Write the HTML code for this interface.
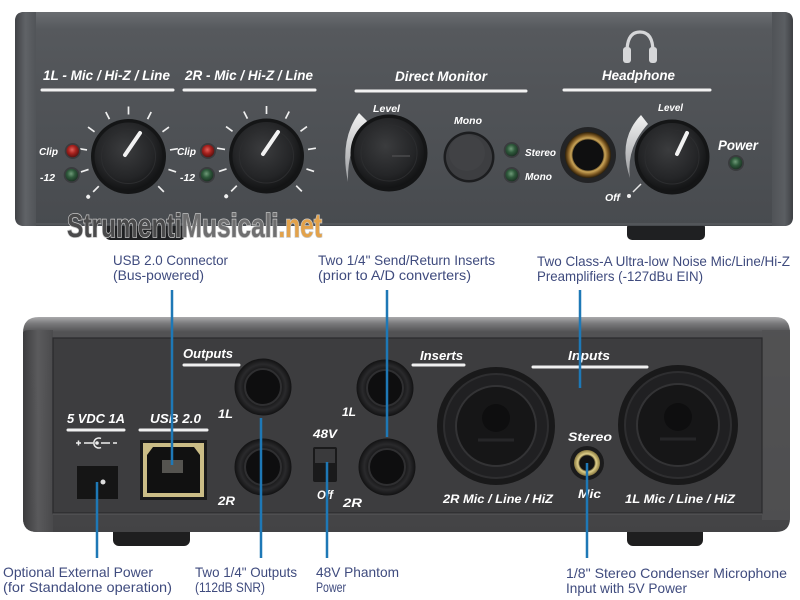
<!DOCTYPE html>
<html><head><meta charset="utf-8"><style>
html,body{margin:0;padding:0;background:#fff;width:800px;height:600px;overflow:hidden;}
svg{display:block;}
.w{fill:#fff;font-family:"Liberation Sans",sans-serif;font-weight:bold;font-style:italic;}
.a{fill:#3f4b7e;font-family:"Liberation Sans",sans-serif;font-size:14px;}
.n{fill:#3f4b7e;font-family:"Liberation Sans Narrow","Liberation Sans",sans-serif;font-size:14px;}
</style></head><body>
<svg width="800" height="600" viewBox="0 0 800 600" xmlns="http://www.w3.org/2000/svg">
<defs>
 <linearGradient id="fg" x1="0" y1="0" x2="0" y2="1">
  <stop offset="0" stop-color="#6a6d71"/>
  <stop offset="0.08" stop-color="#56595d"/>
  <stop offset="0.5" stop-color="#4f5256"/>
  <stop offset="1" stop-color="#484b4f"/>
 </linearGradient>
 <linearGradient id="fl" x1="0" y1="0" x2="1" y2="0">
  <stop offset="0" stop-color="#404246"/>
  <stop offset="0.5" stop-color="#606367"/>
  <stop offset="1" stop-color="#515458"/>
 </linearGradient>
 <linearGradient id="fr" x1="0" y1="0" x2="1" y2="0">
  <stop offset="0" stop-color="#505357"/>
  <stop offset="0.6" stop-color="#5b5e62"/>
  <stop offset="1" stop-color="#3e4044"/>
 </linearGradient>
 <radialGradient id="knob" cx="0.45" cy="0.4" r="0.6">
  <stop offset="0" stop-color="#3b3c3e"/>
  <stop offset="0.7" stop-color="#242527"/>
  <stop offset="1" stop-color="#131415"/>
 </radialGradient>
 <radialGradient id="red" cx="0.45" cy="0.4" r="0.6">
  <stop offset="0" stop-color="#e0605a"/>
  <stop offset="0.5" stop-color="#a8221e"/>
  <stop offset="1" stop-color="#5a1210"/>
 </radialGradient>
 <radialGradient id="grn" cx="0.45" cy="0.4" r="0.6">
  <stop offset="0" stop-color="#6f9a78"/>
  <stop offset="0.5" stop-color="#2f5a3c"/>
  <stop offset="1" stop-color="#1c3324"/>
 </radialGradient>
 <radialGradient id="gold" cx="0.5" cy="0.5" r="0.5">
  <stop offset="0.62" stop-color="#2a1e0a"/>
  <stop offset="0.74" stop-color="#c9a458"/>
  <stop offset="0.88" stop-color="#7a5620"/>
  <stop offset="1" stop-color="#2a1e0a"/>
 </radialGradient>
 <radialGradient id="mgold" cx="0.5" cy="0.5" r="0.5">
  <stop offset="0.55" stop-color="#2a2414"/>
  <stop offset="0.7" stop-color="#e0d08a"/>
  <stop offset="1" stop-color="#8a7a40"/>
 </radialGradient>
 <linearGradient id="arc" x1="0" y1="0" x2="0" y2="1">
  <stop offset="0" stop-color="#f2f2f2"/>
  <stop offset="1" stop-color="#9a9c9f"/>
 </linearGradient>
 <linearGradient id="bg" x1="0" y1="0" x2="0" y2="1">
  <stop offset="0" stop-color="#a9a9ab"/>
  <stop offset="0.03" stop-color="#7a7a7c"/>
  <stop offset="0.07" stop-color="#525254"/>
  <stop offset="1" stop-color="#434345"/>
 </linearGradient>
 <linearGradient id="bl" x1="0" y1="0" x2="1" y2="0">
  <stop offset="0" stop-color="#3a3a3c"/>
  <stop offset="0.5" stop-color="#5c5c5e"/>
  <stop offset="1" stop-color="#4a4a4c"/>
 </linearGradient>
 <radialGradient id="jack" cx="0.5" cy="0.5" r="0.5">
  <stop offset="0" stop-color="#0c0c0d"/>
  <stop offset="0.6" stop-color="#141415"/>
  <stop offset="0.8" stop-color="#2a2a2c"/>
  <stop offset="1" stop-color="#121213"/>
 </radialGradient>
</defs>

<!-- ============ FRONT DEVICE ============ -->
<rect x="105" y="222" width="80" height="18" rx="5" fill="#1f2022"/>
<rect x="627" y="222" width="78" height="18" rx="5" fill="#1f2022"/>
<rect x="15" y="12" width="778" height="214" rx="9" fill="url(#fg)"/>
<path d="M24,12 L36,12 L36,226 L24,226 Q15,226 15,217 L15,21 Q15,12 24,12 Z" fill="url(#fl)"/>
<path d="M772,12 L784,12 Q793,12 793,21 L793,217 Q793,226 784,226 L772,226 Z" fill="url(#fr)"/>
<line x1="36" y1="224" x2="772" y2="224" stroke="#5e6165" stroke-width="1"/>

<!-- section headers -->
<text class="w" x="43" y="80" font-size="14" textLength="127" lengthAdjust="spacingAndGlyphs">1L - Mic / Hi-Z / Line</text>
<text class="w" x="185" y="80" font-size="14" textLength="128" lengthAdjust="spacingAndGlyphs">2R - Mic / Hi-Z / Line</text>
<text class="w" x="395" y="81" font-size="14" textLength="92" lengthAdjust="spacingAndGlyphs">Direct Monitor</text>
<text class="w" x="602" y="80" font-size="14" textLength="73" lengthAdjust="spacingAndGlyphs">Headphone</text>
<g stroke="#f2f2f2" stroke-width="3" stroke-linecap="round">
 <line x1="42" y1="90" x2="173" y2="90"/>
 <line x1="184" y1="90" x2="315" y2="90"/>
 <line x1="356" y1="91" x2="526" y2="91"/>
 <line x1="564" y1="90" x2="710" y2="90"/>
</g>

<!-- headphone icon -->
<g fill="none" stroke="#d6d7d9" stroke-width="3.2">
 <path d="M627,52 Q627,32 640,32 Q653,32 653,52"/>
</g>
<rect x="623" y="47" width="8" height="16" rx="3" fill="#d6d7d9"/>
<rect x="649" y="47" width="8" height="16" rx="3" fill="#d6d7d9"/>

<!-- Knob 1 -->
<g transform="translate(128.5,156.5)">
 <g stroke="#f0f0f0" stroke-width="1.7">
  <line y1="-42" y2="-50" transform="rotate(-135)"/>
  <line y1="-42" y2="-50" transform="rotate(-108)"/>
  <line y1="-42" y2="-50" transform="rotate(-81)"/>
  <line y1="-42" y2="-50" transform="rotate(-54)"/>
  <line y1="-42" y2="-50" transform="rotate(-27)"/>
  <line y1="-42" y2="-50" transform="rotate(0)"/>
  <line y1="-42" y2="-50" transform="rotate(27)"/>
  <line y1="-42" y2="-50" transform="rotate(54)"/>
  <line y1="-42" y2="-50" transform="rotate(81)"/>
  <line y1="-42" y2="-50" transform="rotate(108)"/>
  <line y1="-42" y2="-50" transform="rotate(135)"/>
 </g>
 <circle cx="0" cy="-57" r="2" fill="#f0f0f0" transform="rotate(-135)"/>
 <circle r="37.5" fill="#141516"/>
 <circle r="34" fill="url(#knob)"/>
 <circle r="27" fill="none" stroke="#2c2d2f" stroke-width="1"/>
 <line x1="-3.5" y1="-1.5" x2="11.5" y2="-23.5" stroke="#f2f2f2" stroke-width="4" stroke-linecap="round"/>
</g>
<!-- Knob 2 -->
<g transform="translate(266.5,156)">
 <g stroke="#f0f0f0" stroke-width="1.7">
  <line y1="-42" y2="-50" transform="rotate(-135)"/>
  <line y1="-42" y2="-50" transform="rotate(-108)"/>
  <line y1="-42" y2="-50" transform="rotate(-81)"/>
  <line y1="-42" y2="-50" transform="rotate(-54)"/>
  <line y1="-42" y2="-50" transform="rotate(-27)"/>
  <line y1="-42" y2="-50" transform="rotate(0)"/>
  <line y1="-42" y2="-50" transform="rotate(27)"/>
  <line y1="-42" y2="-50" transform="rotate(54)"/>
  <line y1="-42" y2="-50" transform="rotate(81)"/>
  <line y1="-42" y2="-50" transform="rotate(108)"/>
  <line y1="-42" y2="-50" transform="rotate(135)"/>
 </g>
 <circle cx="0" cy="-57" r="2" fill="#f0f0f0" transform="rotate(-135)"/>
 <circle r="37.5" fill="#141516"/>
 <circle r="34" fill="url(#knob)"/>
 <circle r="27" fill="none" stroke="#2c2d2f" stroke-width="1"/>
 <line x1="-3.5" y1="-2" x2="11.5" y2="-24" stroke="#f2f2f2" stroke-width="4" stroke-linecap="round"/>
</g>

<!-- Clip / -12 LEDs -->
<text class="w" x="39" y="155" font-size="10.5" textLength="19" lengthAdjust="spacingAndGlyphs">Clip</text>
<text class="w" x="40" y="181" font-size="10.5" textLength="15" lengthAdjust="spacingAndGlyphs">-12</text>
<text class="w" x="177" y="155" font-size="10.5" textLength="19" lengthAdjust="spacingAndGlyphs">Clip</text>
<text class="w" x="180" y="181" font-size="10.5" textLength="15" lengthAdjust="spacingAndGlyphs">-12</text>
<circle cx="72.7" cy="151" r="8" fill="#3a3b3e"/>
<circle cx="72.7" cy="151" r="6.3" fill="url(#red)"/>
<circle cx="71.7" cy="175" r="8" fill="#3a3b3e"/>
<circle cx="71.7" cy="175" r="6.3" fill="url(#grn)"/>
<circle cx="208" cy="151" r="8" fill="#3a3b3e"/>
<circle cx="208" cy="151" r="6.3" fill="url(#red)"/>
<circle cx="207" cy="175" r="8" fill="#3a3b3e"/>
<circle cx="207" cy="175" r="6.3" fill="url(#grn)"/>

<!-- Direct Monitor -->
<text class="w" x="373" y="112" font-size="10.5" textLength="27" lengthAdjust="spacingAndGlyphs">Level</text>
<path d="M359,113 Q339,140 348,182 Q347,146 367,121 Z" fill="url(#arc)"/>
<circle cx="389" cy="153" r="38.5" fill="#141516"/>
<circle cx="389" cy="153" r="35" fill="url(#knob)"/>
<circle cx="389" cy="153" r="28" fill="none" stroke="#2c2d2f" stroke-width="1"/>
<line x1="392" y1="156" x2="410" y2="156" stroke="#4a4b4d" stroke-width="1.5"/>
<text class="w" x="454" y="124" font-size="10.5" textLength="28" lengthAdjust="spacingAndGlyphs">Mono</text>
<circle cx="469" cy="157" r="25.5" fill="#1c1d1f"/>
<circle cx="469" cy="157" r="23" fill="#3d3e41"/>
<circle cx="467" cy="153" r="18" fill="#434447" opacity="0.7"/>
<circle cx="511.7" cy="150" r="8" fill="#3a3b3e"/>
<circle cx="511.7" cy="150" r="6.3" fill="url(#grn)"/>
<circle cx="511.7" cy="175" r="8" fill="#3a3b3e"/>
<circle cx="511.7" cy="175" r="6.3" fill="url(#grn)"/>
<text class="w" x="525" y="156" font-size="10.5" textLength="31" lengthAdjust="spacingAndGlyphs">Stereo</text>
<text class="w" x="525" y="180" font-size="10.5" textLength="27" lengthAdjust="spacingAndGlyphs">Mono</text>

<!-- Headphone jack -->
<circle cx="588" cy="155" r="28" fill="#232426"/>
<circle cx="588" cy="155" r="23" fill="url(#gold)"/>
<circle cx="588" cy="155" r="15.5" fill="#0f0f10"/>

<!-- Headphone level -->
<text class="w" x="658" y="111" font-size="10.5" textLength="25" lengthAdjust="spacingAndGlyphs">Level</text>
<path d="M641,115 Q617,140 630,178 Q626,148 648,124 Z" fill="url(#arc)"/>
<circle cx="672" cy="157" r="37.5" fill="#141516"/>
<circle cx="672" cy="157" r="34" fill="url(#knob)"/>
<circle cx="672" cy="157" r="27" fill="none" stroke="#2c2d2f" stroke-width="1"/>
<line x1="677" y1="154" x2="687" y2="133" stroke="#f2f2f2" stroke-width="4" stroke-linecap="round"/>
<line x1="633" y1="192" x2="641" y2="184" stroke="#e8e8e8" stroke-width="1.5"/>
<circle cx="629" cy="196" r="2" fill="#f0f0f0"/>
<text class="w" x="605" y="201" font-size="10.5" textLength="15" lengthAdjust="spacingAndGlyphs">Off</text>

<!-- Power -->
<text class="w" x="718" y="150" font-size="13.5" textLength="40" lengthAdjust="spacingAndGlyphs">Power</text>
<circle cx="736" cy="163" r="8" fill="#3a3b3e"/>
<circle cx="736" cy="163" r="6.3" fill="url(#grn)"/>

<!-- watermark -->
<text x="67" y="237" font-family="'Liberation Sans Narrow','Liberation Sans',sans-serif" font-weight="bold" font-size="33" textLength="255" lengthAdjust="spacingAndGlyphs" stroke="#c8c8c8" stroke-width="1.6" paint-order="stroke"><tspan fill="#4a4a4b">Strumenti</tspan><tspan fill="#6f6f70">Musicali</tspan><tspan fill="#e3a24a">.net</tspan></text>

<!-- ============ BACK DEVICE ============ -->
<rect x="113" y="526" width="77" height="20" rx="6" fill="#1e1e1f"/>
<rect x="627" y="526" width="76" height="20" rx="6" fill="#1e1e1f"/>
<path d="M23,333 Q23,317 39,317 L775,317 Q790,317 790,333 L790,518 Q790,532 776,532 L37,532 Q23,532 23,518 Z" fill="url(#bg)"/>
<path d="M23,333 Q23,330 30,330 L53,330 L53,532 L37,532 Q23,532 23,518 Z" fill="url(#bl)" opacity="0.9"/>
<rect x="762" y="330" width="28" height="190" fill="#515153" opacity="0.8"/>
<rect x="53" y="338" width="709" height="175" fill="#3d3d3f" stroke="#2a2a2c" stroke-width="1.2"/>
<line x1="53" y1="514" x2="762" y2="514" stroke="#5a5a5c" stroke-width="1"/>

<!-- labels -->
<text class="w" x="183" y="358" font-size="13" textLength="50" lengthAdjust="spacingAndGlyphs">Outputs</text>
<text class="w" x="420" y="360" font-size="13" textLength="43" lengthAdjust="spacingAndGlyphs">Inserts</text>
<text class="w" x="568" y="360" font-size="13" textLength="42" lengthAdjust="spacingAndGlyphs">Inputs</text>
<text class="w" x="67" y="423" font-size="13" textLength="58" lengthAdjust="spacingAndGlyphs">5 VDC 1A</text>
<text class="w" x="150" y="423" font-size="13" textLength="51" lengthAdjust="spacingAndGlyphs">USB 2.0</text>
<g stroke="#f0f0f0" stroke-width="3" stroke-linecap="round">
 <line x1="184" y1="365" x2="239" y2="365"/>
 <line x1="413" y1="365" x2="464" y2="365"/>
 <line x1="533" y1="367" x2="647" y2="367"/>
 <line x1="68" y1="430" x2="124" y2="430"/>
 <line x1="140" y1="430" x2="207" y2="430"/>
</g>

<!-- power symbol -->
<g stroke="#eee" stroke-width="1.5" fill="none">
 <line x1="76" y1="443" x2="81" y2="443"/><line x1="78.5" y1="440.5" x2="78.5" y2="445.5"/>
 <line x1="84" y1="443" x2="93" y2="443"/>
 <path d="M101,438.5 A5,5 0 1 0 101,447.5"/>
 <line x1="101" y1="443" x2="110" y2="443"/>
 <line x1="113" y1="443" x2="117" y2="443"/>
</g>
<circle cx="97" cy="443" r="1.8" fill="#eee"/>

<!-- power jack -->
<rect x="77" y="466" width="41" height="33" fill="#151515"/>
<circle cx="103" cy="482" r="2.5" fill="#ddd"/>

<!-- USB port -->
<rect x="140" y="440" width="67" height="60" fill="#1a1a1a"/>
<rect x="143" y="443" width="61" height="54" fill="#cbbd86"/>
<path d="M153,447 L194,447 L200,455 L200,493 L147,493 L147,455 Z" fill="#111"/>
<rect x="162" y="460" width="21" height="13" fill="#555450"/>

<!-- output jacks -->
<circle cx="263" cy="387" r="28.5" fill="url(#jack)"/>
<circle cx="263" cy="387" r="18" fill="#0e0e0f" stroke="#2f2f31" stroke-width="2"/>
<circle cx="263" cy="467" r="28.5" fill="url(#jack)"/>
<circle cx="263" cy="467" r="18" fill="#0e0e0f" stroke="#2f2f31" stroke-width="2"/>
<text class="w" x="218" y="418" font-size="12" textLength="15" lengthAdjust="spacingAndGlyphs">1L</text>
<text class="w" x="218" y="505" font-size="12" textLength="17" lengthAdjust="spacingAndGlyphs">2R</text>

<!-- 48V -->
<text class="w" x="313" y="438" font-size="12" textLength="24" lengthAdjust="spacingAndGlyphs">48V</text>
<rect x="313" y="447" width="24" height="35" rx="2" fill="#1a1a1b"/>
<rect x="315" y="449" width="20" height="14" fill="#3a3a3c"/>
<text class="w" x="317" y="499" font-size="12" textLength="16" lengthAdjust="spacingAndGlyphs">Off</text>

<!-- insert jacks -->
<circle cx="385" cy="388" r="28.5" fill="url(#jack)"/>
<circle cx="385" cy="388" r="18" fill="#0e0e0f" stroke="#2f2f31" stroke-width="2"/>
<circle cx="387" cy="467" r="28.5" fill="url(#jack)"/>
<circle cx="387" cy="467" r="18" fill="#0e0e0f" stroke="#2f2f31" stroke-width="2"/>
<text class="w" x="342" y="416" font-size="12" textLength="14" lengthAdjust="spacingAndGlyphs">1L</text>
<text class="w" x="343" y="507" font-size="12" textLength="19" lengthAdjust="spacingAndGlyphs">2R</text>

<!-- combo jacks -->
<circle cx="496" cy="426" r="59" fill="#19191a"/>
<circle cx="496" cy="426" r="52" fill="#202022" stroke="#2e2e30" stroke-width="2"/>
<circle cx="496" cy="426" r="40" fill="#161617" stroke="#333335" stroke-width="2"/>
<circle cx="496" cy="418" r="14" fill="#0e0e0f"/>
<path d="M478,440 L514,440" stroke="#262628" stroke-width="3"/>
<circle cx="678" cy="425" r="60" fill="#19191a"/>
<circle cx="678" cy="425" r="53" fill="#202022" stroke="#2e2e30" stroke-width="2"/>
<circle cx="678" cy="425" r="41" fill="#161617" stroke="#333335" stroke-width="2"/>
<circle cx="678" cy="417" r="14" fill="#0e0e0f"/>
<path d="M660,439 L696,439" stroke="#262628" stroke-width="3"/>

<!-- mini jack -->
<text class="w" x="568" y="441" font-size="12" textLength="44" lengthAdjust="spacingAndGlyphs">Stereo</text>
<circle cx="587" cy="463" r="17" fill="#1b1b1c"/>
<circle cx="587" cy="463" r="13" fill="url(#mgold)"/>
<circle cx="587" cy="463" r="7.5" fill="#121212"/>
<text class="w" x="578" y="498" font-size="12" textLength="23" lengthAdjust="spacingAndGlyphs">Mic</text>
<text class="w" x="443" y="503" font-size="12" textLength="110" lengthAdjust="spacingAndGlyphs">2R Mic / Line / HiZ</text>
<text class="w" x="625" y="503" font-size="12" textLength="110" lengthAdjust="spacingAndGlyphs">1L Mic / Line / HiZ</text>

<!-- ============ CALLOUT LINES ============ -->
<g stroke="#1e78b6" stroke-width="2.5">
 <line x1="172" y1="290" x2="172" y2="465"/>
 <line x1="387" y1="290" x2="387" y2="437"/>
 <line x1="580" y1="290" x2="580" y2="388"/>
 <line x1="97" y1="482" x2="97" y2="558"/>
 <line x1="261" y1="418" x2="261" y2="558"/>
 <line x1="327" y1="462" x2="327" y2="558"/>
 <line x1="587" y1="463" x2="587" y2="558"/>
</g>

<!-- ============ ANNOTATION TEXT ============ -->
<text class="a" x="113" y="265" textLength="115" lengthAdjust="spacingAndGlyphs">USB 2.0 Connector</text>
<text class="a" x="113" y="280" textLength="91" lengthAdjust="spacingAndGlyphs">(Bus-powered)</text>
<text class="a" x="318" y="265" textLength="177" lengthAdjust="spacingAndGlyphs">Two 1/4" Send/Return Inserts</text>
<text class="a" x="318" y="280" textLength="153" lengthAdjust="spacingAndGlyphs">(prior to A/D converters)</text>
<text class="a" x="537" y="266" textLength="253" lengthAdjust="spacingAndGlyphs">Two Class-A Ultra-low Noise Mic/Line/Hi-Z</text>
<text class="a" x="537" y="281" textLength="166" lengthAdjust="spacingAndGlyphs">Preamplifiers (-127dBu EIN)</text>
<text class="a" x="3" y="577" textLength="150" lengthAdjust="spacingAndGlyphs">Optional External Power</text>
<text class="a" x="3" y="592" textLength="169" lengthAdjust="spacingAndGlyphs">(for Standalone operation)</text>
<text class="a" x="195" y="577" textLength="102" lengthAdjust="spacingAndGlyphs">Two 1/4" Outputs</text>
<text class="n" x="195" y="592" textLength="70" lengthAdjust="spacingAndGlyphs">(112dB SNR)</text>
<text class="a" x="316" y="577" textLength="83" lengthAdjust="spacingAndGlyphs">48V Phantom</text>
<text class="n" x="316" y="592" textLength="30" lengthAdjust="spacingAndGlyphs">Power</text>
<text class="a" x="566" y="578" textLength="221" lengthAdjust="spacingAndGlyphs">1/8" Stereo Condenser Microphone</text>
<text class="a" x="566" y="593" textLength="121" lengthAdjust="spacingAndGlyphs">Input with 5V Power</text>
</svg>
</body></html>
